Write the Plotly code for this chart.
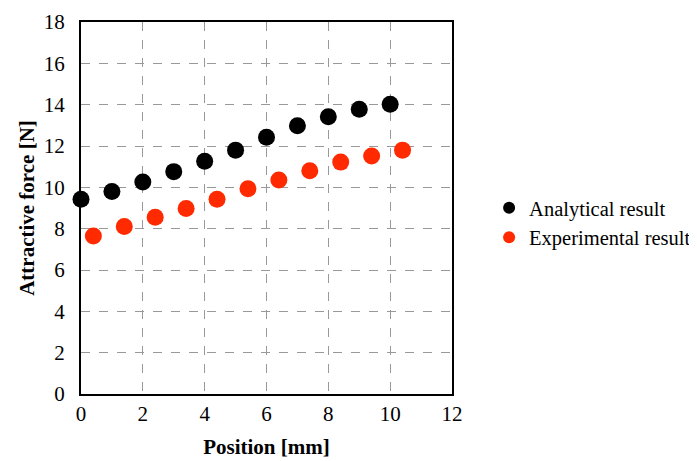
import plotly.graph_objects as go

analytical_x = [0, 1, 2, 3, 4, 5, 6, 7, 8, 9, 10]
analytical_y = [9.42, 9.8, 10.26, 10.76, 11.26, 11.8, 12.42, 12.98, 13.42, 13.78, 14.02]
experimental_x = [0.4, 1.4, 2.4, 3.4, 4.4, 5.4, 6.4, 7.4, 8.4, 9.4, 10.4]
experimental_y = [7.64, 8.1, 8.55, 8.98, 9.42, 9.93, 10.36, 10.8, 11.22, 11.52, 11.8]

font_family = "Liberation Serif, Times New Roman, serif"

fig = go.Figure()
fig.add_trace(go.Scatter(x=analytical_x, y=analytical_y, mode="markers",
                         name="Analytical result",
                         marker=dict(color="#000000", size=17), cliponaxis=False))
fig.add_trace(go.Scatter(x=experimental_x, y=experimental_y, mode="markers",
                         name="Experimental result",
                         marker=dict(color="#FF2A00", size=17), cliponaxis=False))

fig.update_layout(
    width=689, height=453,
    margin=dict(l=73, r=245, t=14, b=67, autoexpand=False),
    paper_bgcolor="white", plot_bgcolor="white",
    font=dict(family=font_family, size=21, color="#000000"),
    legend=dict(x=1.1, y=0.46, xanchor="left", yanchor="middle",
                font=dict(size=20.5), itemsizing="constant", tracegroupgap=0,
                bgcolor="rgba(0,0,0,0)"),
    xaxis=dict(range=[0, 12], dtick=2, showgrid=True, gridcolor="#999999",
               griddash="dash", gridwidth=1, showline=True, linecolor="#000000",
               linewidth=2, mirror=True, zeroline=False, ticks="",
               automargin=False, tickfont=dict(size=21),
               title=dict(text="<b>Position [mm]</b>", font=dict(size=21), standoff=14)),
    yaxis=dict(range=[0, 18], dtick=2, showgrid=True, gridcolor="#999999",
               griddash="dash", gridwidth=1, showline=True, linecolor="#000000",
               linewidth=2, mirror=True, zeroline=False, ticks="outside",
               ticklen=10, tickcolor="rgba(0,0,0,0)",
               automargin=False, tickfont=dict(size=21),
               title=dict(text="<b>Attractive force [N]</b>", font=dict(size=21), standoff=3)),
)

fig.write_html("out.html")
